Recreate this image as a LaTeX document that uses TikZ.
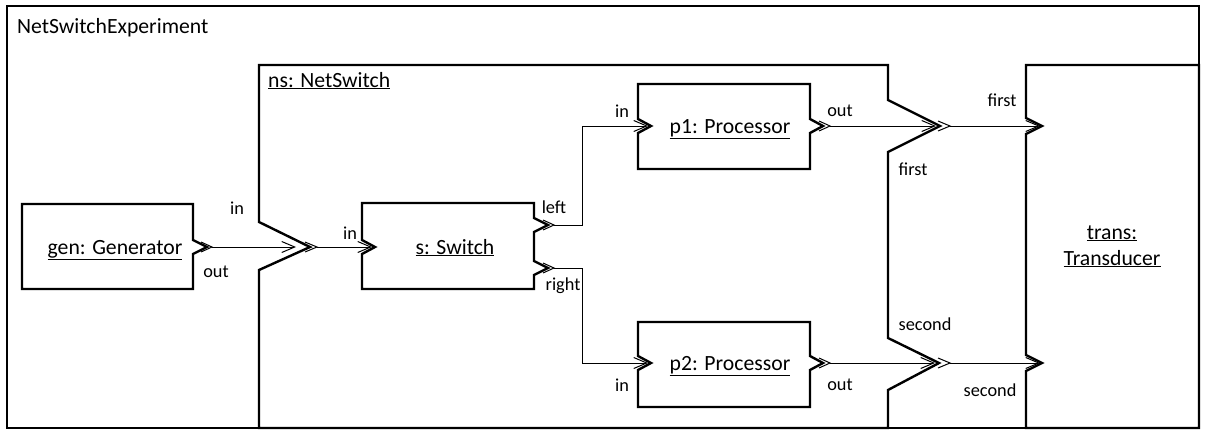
\documentclass[tikz,border=0pt]{standalone}
\usepackage{fontspec}
\setmainfont{Carlito}
\usetikzlibrary{arrows.meta}
\tikzset{
  boxline/.style={line width=2.4pt, line join=miter, miter limit=10},
  frameline/.style={line width=2pt},
  thinchev/.style={line width=1pt, line join=miter},
  conn/.style={line width=1pt, -{Straight Barb[length=13pt,width=11pt]}},
  plain/.style={line width=1pt},
  mainlbl/.style={inner sep=0pt, font=\fontsize{21.7}{26}\selectfont},
  portlbl/.style={inner sep=0pt, font=\fontsize{18.3}{22}\selectfont},
}
\begin{document}
\begin{tikzpicture}[x=1pt, y=-1pt]
\useasboundingbox (0,0) rectangle (1209,439);
% outer frame
\draw[frameline] (7,6) rectangle (1199,428);
\node[mainlbl, anchor=base west] (exp) at (17,33) {NetSwitchExperiment};

% ns box
\draw[boxline] (259,65) -- (888,65) -- (888,100) -- (940,126) -- (888,152) -- (888,338) -- (939,363) -- (888,390) -- (888,428) -- (259,428) -- (259,270) -- (310,247) -- (259,222) -- cycle;
\node[mainlbl, anchor=base west] (ns) at (268,87) {\underline{ns: NetSwitch}};
\draw[thinchev] (305,242) -- (317,247) -- (305,252);
\draw[thinchev] (938,121) -- (950,126) -- (938,131);
\draw[thinchev] (938,358) -- (950,363) -- (938,368);
\coordinate (nsinA) at (296,247);
\coordinate (nsinB) at (317,247);
\coordinate (nsfirstA) at (936,126);
\coordinate (nsfirstB) at (950,126);
\coordinate (nssecondA) at (935,363);
\coordinate (nssecondB) at (950,363);

% gen box
\draw[boxline] (22,204) -- (193,204) -- (193,240) -- (207,247) -- (193,254) -- (193,289) -- (22,289) -- cycle;
\draw[thinchev] (201,242) -- (212,247) -- (201,252);
\node[mainlbl, anchor=base] (gen) at (115,254) {\underline{gen: Generator}};
\coordinate (genout) at (212,247);

% s box
\draw[boxline] (362,203) -- (534,203) -- (534,218) -- (548,225) -- (534,232) -- (534,261) -- (548,268) -- (534,275) -- (534,289) -- (362,289) -- (362,254) -- (375,247) -- (362,240) -- cycle;
\draw[thinchev] (543,220) -- (554,225) -- (543,230);
\draw[thinchev] (543,263) -- (554,268) -- (543,273);
\node[mainlbl, anchor=base] (s) at (455,254) {\underline{s: Switch}};
\coordinate (sin) at (372,247);
\coordinate (sleft) at (554,225);
\coordinate (sright) at (554,268);

% p1 box
\draw[boxline] (638,84) -- (810,84) -- (810,119) -- (823,126) -- (810,133) -- (810,169) -- (638,169) -- (638,133) -- (651,126) -- (638,119) -- cycle;
\draw[thinchev] (819,121) -- (830,126) -- (819,131);
\node[mainlbl, anchor=base] (p1) at (730,133) {\underline{p1: Processor}};
\coordinate (p1in) at (648,126);
\coordinate (p1out) at (830,126);

% p2 box
\draw[boxline] (638,322) -- (810,322) -- (810,356) -- (823,363) -- (810,370) -- (810,407) -- (638,407) -- (638,370) -- (651,363) -- (638,356) -- cycle;
\draw[thinchev] (819,358) -- (830,363) -- (819,368);
\node[mainlbl, anchor=base] (p2) at (730,370) {\underline{p2: Processor}};
\coordinate (p2in) at (648,363);
\coordinate (p2out) at (830,363);

% trans box
\draw[boxline] (1026,65) -- (1199,65) -- (1199,428) -- (1026,428) -- (1026,371) -- (1042,363) -- (1026,355) -- (1026,134) -- (1042,126) -- (1026,118) -- cycle;
\node[mainlbl, anchor=base] (trans1) at (1112,239) {\underline{trans:}};
\node[mainlbl, anchor=base] (trans2) at (1112,265) {\underline{Transducer}};
\coordinate (transfirst) at (1040,126);
\coordinate (transsecond) at (1040,363);

% bends
\coordinate (b1) at (582,126);
\coordinate (b2) at (582,363);

% connectors
\draw[conn] (genout) -- (nsinA);
\draw[conn] (nsinB) -- (sin);
\draw[conn] (sleft) -| (b1) -- (p1in);
\draw[conn] (sright) -| (b2) -- (p2in);
\draw[conn] (p1out) -- (nsfirstA);
\draw[conn] (p2out) -- (nssecondA);
\draw[conn] (nsfirstB) -- (transfirst);
\draw[conn] (nssecondB) -- (transsecond);

% port labels
\node[portlbl] (lnsin) at (237,208) {in};
\node[portlbl] (lgenout) at (216,272) {out};
\node[portlbl] (lsin) at (350,233) {in};
\node[portlbl] (lsleft) at (554,207) {left};
\node[portlbl] (lsright) at (563,286) {right};
\node[portlbl] (lp1in) at (622,111) {in};
\node[portlbl] (lp1out) at (840,111) {out};
\node[portlbl] (lp2in) at (622,385) {in};
\node[portlbl] (lp2out) at (840,385) {out};
\node[portlbl] (lnsfirst) at (913,169) {first};
\node[portlbl] (ltfirst) at (1002,100) {first};
\node[portlbl] (lnssecond) at (925,324) {second};
\node[portlbl] (ltsecond) at (990,390) {second};
\end{tikzpicture}
\end{document}
